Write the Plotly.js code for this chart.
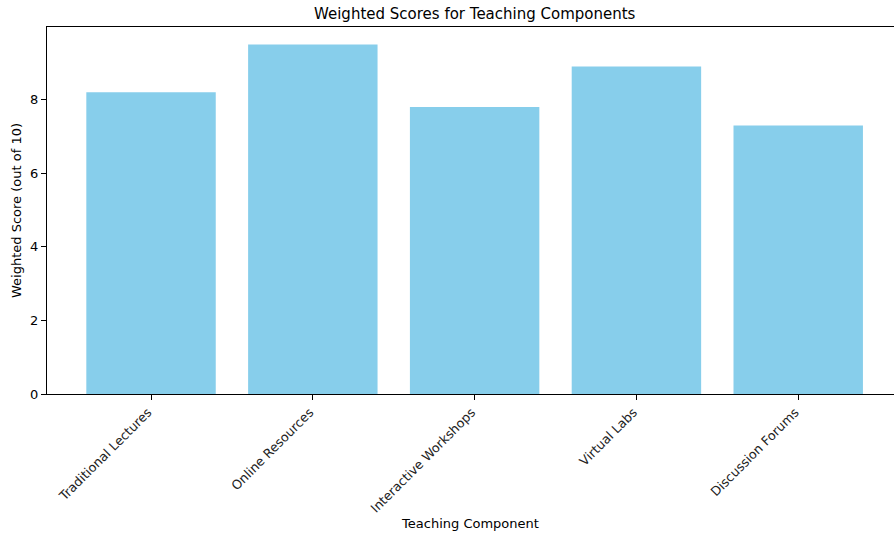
<!DOCTYPE html>
<html>
<head>
<meta charset="utf-8">
<script src="https://cdn.plot.ly/plotly-3.0.1.min.js"></script>
<style>html,body{margin:0;padding:0;background:#fff;}#chart{width:894px;height:535px;}</style>
</head>
<body>
<div id="chart"></div>
<script>
const components = ["Traditional Lectures", "Online Resources", "Interactive Workshops", "Virtual Labs", "Discussion Forums"];
const weightedScores = [8.2, 9.5, 7.8, 8.9, 7.3];
const yTicks = [0, 2, 4, 6, 8];

const font = {family: "DejaVu Sans, sans-serif", color: "#000", size: 13};

Plotly.newPlot("chart", [{
  type: "bar",
  x: components.map((_, i) => i),
  y: weightedScores,
  width: 0.8,
  marker: {color: "#87CEEB", line: {width: 0}},
  hoverinfo: "none"
}], {
  width: 894, height: 535,
  margin: {l: 47, r: 0, t: 27, b: 141},
  paper_bgcolor: "#fff", plot_bgcolor: "#fff",
  font: font,
  showlegend: false,
  title: {text: "Weighted Scores for Teaching Components", font: {family: font.family, size: 15, color: "#000"}, xref: "paper", x: 0.505, xanchor: "center", yref: "container", y: 1 - 14/535, yanchor: "middle"},
  xaxis: {
    range: [-0.643, 4.592],
    tickvals: components.map((_, i) => i),
    ticktext: components,
    tickangle: -45,
    ticklabelshift: -3,
    ticks: "outside", ticklen: 5, tickcolor: "#000", tickwidth: 1,
    showline: true, linecolor: "#000", linewidth: 1, mirror: true,
    showgrid: false, zeroline: false,
    tickfont: {family: font.family, size: 12.7, color: "#222"},
    title: {text: "Teaching Component", font: {family: font.family, size: 13, color: "#000"}, standoff: 2}
  },
  yaxis: {
    range: [0, 9.975],
    tickvals: yTicks,
    ticks: "outside", ticklen: 5, tickcolor: "#000", tickwidth: 1,
    showline: true, linecolor: "#000", linewidth: 1, mirror: false,
    showgrid: false, zeroline: false,
    tickfont: {family: font.family, size: 13, color: "#000"},
    title: {text: "Weighted Score (out of 10)", font: {family: font.family, size: 13, color: "#000"}, standoff: 5}
  }
}, {staticPlot: true});
</script>
</body>
</html>
